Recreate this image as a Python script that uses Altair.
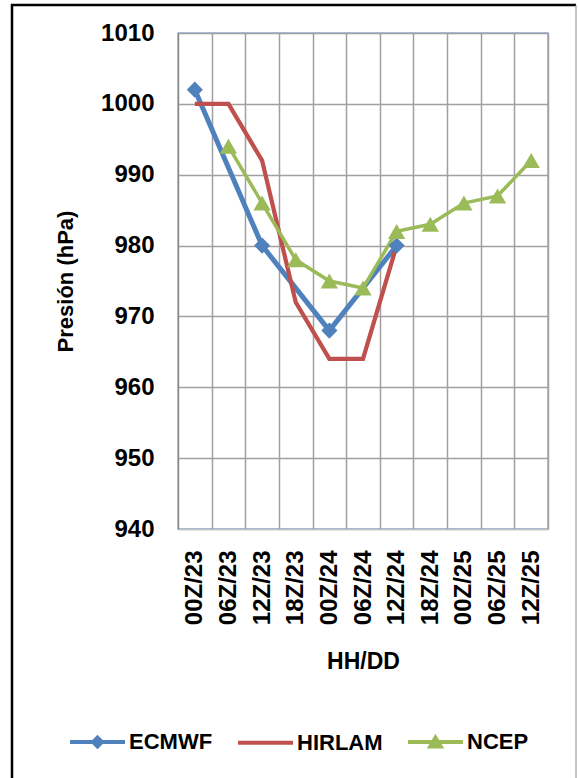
import altair as alt
import pandas as pd

categories = ["00Z/23", "06Z/23", "12Z/23", "18Z/23", "00Z/24", "06Z/24",
              "12Z/24", "18Z/24", "00Z/25", "06Z/25", "12Z/25"]
ecmwf = [1002, None, 980, None, 968, None, 980, None, None, None, None]
hirlam = [1000, 1000, 992, 972, 964, 964, 980, None, None, None, None]
ncep = [None, 994, 986, 978, 975, 974, 982, 983, 986, 987, 992]
y_ticks = [940, 950, 960, 970, 980, 990, 1000, 1010]

series_names = ["ECMWF", "HIRLAM", "NCEP"]
series_colors = ["#4F81BD", "#C0504D", "#9BBB59"]
line_widths = [5, 3.5, 4]

rows = []
for name, vals in zip(series_names, [ecmwf, hirlam, ncep]):
    for i, (c, v) in enumerate(zip(categories, vals)):
        if v is not None:
            rows.append({"series": name, "time": c, "idx": i, "value": v})
df = pd.DataFrame(rows)

FONT = "Liberation Sans"
GRID = "#A0A0A0"

x_enc = alt.X(
    "time:N", sort=categories, bandPosition=0.5,
    scale=alt.Scale(type="band", paddingInner=0, paddingOuter=0, domain=categories),
    axis=alt.Axis(title="HH/DD", labelAngle=270, labelAlign="right", labelBaseline="middle",
                  grid=True, tickBand="extent", ticks=False, labelPadding=21, titlePadding=26,
                  domainColor="#BFBFBF", gridColor=GRID, gridWidth=1.5,
                  labelFontSize=24, titleFontSize=23),
)
y_enc = alt.Y(
    "value:Q",
    scale=alt.Scale(domain=[940, 1010], nice=False, zero=False),
    axis=alt.Axis(values=y_ticks, format="d", title="Presión (hPa)", ticks=False, labelPadding=24,
                  titlePadding=23, domainColor="#868686", gridColor=GRID, gridWidth=1.5,
                  labelFontSize=24, titleFontSize=22),
)
color_scale = alt.Scale(domain=series_names, range=series_colors)

base = alt.Chart(df)

lines = base.mark_line().encode(
    x=x_enc, y=y_enc,
    color=alt.Color("series:N", scale=color_scale, legend=None),
    strokeWidth=alt.StrokeWidth("series:N", scale=alt.Scale(domain=series_names, range=line_widths), legend=None),
    order=alt.Order("idx:Q"),
)

points = base.transform_filter(alt.datum.series != "HIRLAM").mark_point(filled=True, opacity=1).encode(
    x=x_enc, y=y_enc,
    color=alt.Color("series:N", scale=color_scale, legend=None),
    shape=alt.Shape("series:N", scale=alt.Scale(domain=["ECMWF", "NCEP"], range=["diamond", "triangle-up"]), legend=None),
    size=alt.Size("series:N", scale=alt.Scale(domain=["ECMWF", "NCEP"], range=[260, 300]), legend=None),
)

# legend symbols: a line with a (solid, via nested outlines) marker
legend_paths = [
    "M-1,0H1M0,-0.16L0.16,0L0,0.16L-0.16,0ZM0,-0.06L0.06,0L0,0.06L-0.06,0Z",
    "M-1,0H1",
    "M-1,0H1M0,-0.15L0.19,0.17L-0.19,0.17ZM0,0.02L0.07,0.12L-0.07,0.12Z",
]

stroke_expr = "".join(
    f"datum.value === '{n}' ? '{c}' : " for n, c in zip(series_names[:-1], series_colors[:-1])
) + f"'{series_colors[-1]}'"


def mk_legend():
    return alt.Legend(
        orient="none", legendX=-110, legendY=679, direction="horizontal", columns=3,
        title=None, symbolSize=3025, symbolStrokeWidth=4, symbolOpacity=1,
        symbolStrokeColor=alt.ExprRef(stroke_expr),
        labelFont=FONT, labelFontSize=22, labelFontWeight="bold", labelColor="black",
        labelOffset=2, columnPadding=17, padding=0,
    )


legend_layer = base.mark_point(filled=False, opacity=0).encode(
    x=x_enc, y=y_enc,
    color=alt.Color("series:N", scale=color_scale, legend=mk_legend()),
    shape=alt.Shape("series:N", scale=alt.Scale(domain=series_names, range=legend_paths), legend=mk_legend()),
)

one = alt.Data(values=[{"k": 0}])
frame_left = alt.Chart(one).mark_rule(color="black", strokeWidth=2.5).encode(
    x=alt.value(-166), y=alt.value(-29), y2=alt.value(745))
frame_top = alt.Chart(one).mark_rule(color="black", strokeWidth=2.5).encode(
    y=alt.value(-28), x=alt.value(-167), x2=alt.value(398))
frame_right = alt.Chart(one).mark_rule(color="#8C8C8C", strokeWidth=1).encode(
    x=alt.value(398), y=alt.value(-28), y2=alt.value(745))

chart = alt.layer(lines, points, legend_layer, frame_left, frame_top, frame_right).resolve_scale(
    shape="independent", size="independent"
).properties(
    width=370, height=496,
    padding={"left": 178, "top": 33, "right": 30, "bottom": 249},
    autosize=alt.AutoSizeParams(type="none"),
    background="white",
).configure_view(
    stroke="#8DB3E2", strokeWidth=1.5
).configure_axis(
    labelFont=FONT, titleFont=FONT, labelFontWeight="bold", titleFontWeight="bold",
    labelColor="black", titleColor="black",
)

chart.save("out.html", embed_options={"renderer": "svg", "actions": False})
